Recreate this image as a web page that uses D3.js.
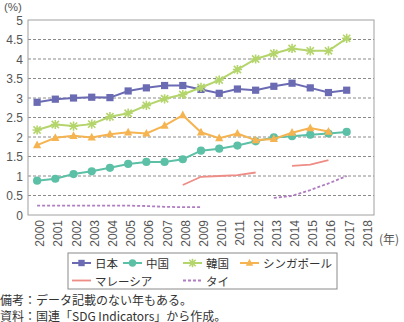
<!DOCTYPE html>
<html>
<head>
<meta charset="utf-8">
<script src="https://cdn.jsdelivr.net/npm/d3@7"></script>
<style>
  body { margin: 0; background: #fff; }
  svg { display: block; font-family: "Noto Sans CJK JP", "Noto Sans", sans-serif; }
  .num { font-family: "Liberation Sans", Arial, sans-serif; }
</style>
</head>
<body>
<svg id="chart" width="404" height="322"></svg>
<script>
// data (% values, null = no data)
const years = ['2000','2001','2002','2003','2004','2005','2006','2007','2008','2009',
               '2010','2011','2012','2013','2014','2015','2016','2017','2018'];
const japan     = [2.89,2.97,3.00,3.02,3.01,3.18,3.26,3.32,3.32,3.22,3.12,3.23,3.20,3.30,3.38,3.26,3.14,3.20,null];
const china     = [0.88,0.93,1.05,1.12,1.21,1.31,1.36,1.36,1.43,1.65,1.70,1.78,1.89,1.99,2.02,2.06,2.09,2.13,null];
const korea     = [2.18,2.32,2.28,2.33,2.52,2.61,2.81,2.98,3.09,3.27,3.46,3.73,4.00,4.14,4.27,4.21,4.21,4.53,null];
const singapore = [1.79,1.98,2.03,1.99,2.07,2.12,2.09,2.29,2.56,2.12,1.97,2.09,1.92,1.95,2.11,2.23,2.14,null,null];
const malaysia  = [null,null,null,null,null,null,null,null,0.77,0.98,1.00,1.02,1.09,null,1.26,1.29,1.41,null,null];
const thai      = [0.24,0.24,0.24,0.24,0.24,0.24,0.23,0.21,0.20,0.20,null,null,null,0.44,0.49,0.64,0.81,1.00,null];
const yTicks = [0,0.5,1,1.5,2,2.5,3,3.5,4,4.5,5];

const series = [
  { name: '日本', values: japan, color: '#6b6bb3', marker: 'square' },
  { name: '中国', values: china, color: '#5cc0a6', marker: 'circle' },
  { name: '韓国', values: korea, color: '#b4d56c', marker: 'star' },
  { name: 'シンガポール', values: singapore, color: '#f5b451', marker: 'triangle' },
  { name: 'マレーシア', values: malaysia, color: '#ee8c86', marker: null },
  { name: 'タイ', values: thai, color: '#b07cc2', marker: null, dash: '3,2' }
];

const svg = d3.select('#chart');
const m = { left: 28, right: 374, top: 20, bottom: 215 };

const x = d3.scaleBand().domain(years).range([m.left, m.right]);
const y = d3.scaleLinear().domain([0, 5]).range([m.bottom, m.top]);
const cx = d => x(d) + x.bandwidth() / 2;

// gridlines
svg.append('g').selectAll('line')
  .data(yTicks.filter(t => t > 0 && t < 5))
  .enter().append('line')
  .attr('x1', m.left).attr('x2', m.right)
  .attr('y1', d => y(d)).attr('y2', d => y(d))
  .attr('stroke', '#8a8a8a').attr('stroke-width', 1)
  .attr('stroke-dasharray', '3,2');

// plot frame
svg.append('rect')
  .attr('x', m.left).attr('y', m.top)
  .attr('width', m.right - m.left).attr('height', m.bottom - m.top)
  .attr('fill', 'none').attr('stroke', '#a0a0a0').attr('stroke-width', 1);

// y labels
svg.append('g').selectAll('text')
  .data(yTicks)
  .enter().append('text')
  .attr('class', 'num')
  .attr('x', 23).attr('y', d => y(d) + 0.5)
  .attr('text-anchor', 'end').attr('dominant-baseline', 'central')
  .attr('font-size', 12).attr('fill', '#555')
  .text(d => d);

svg.append('text').attr('class', 'num').attr('x', 4).attr('y', 7)
  .attr('dominant-baseline', 'central')
  .attr('font-size', 11.5).attr('fill', '#555').text('(%)');

// x labels (rotated)
svg.append('g').selectAll('text')
  .data(years)
  .enter().append('text')
  .attr('class', 'num')
  .attr('transform', d => `translate(${cx(d) + 3},220) rotate(-90)`)
  .attr('text-anchor', 'end').attr('dominant-baseline', 'central')
  .attr('font-size', 12).attr('fill', '#555')
  .text(d => d);

svg.append('text').attr('x', 379).attr('y', 238)
  .attr('dominant-baseline', 'central')
  .attr('font-size', 12).attr('fill', '#555').text('(年)');

// markers
function drawMarker(g, type, color, px, py, s) {
  if (type === 'square') {
    g.append('rect').attr('x', px - s).attr('y', py - s)
      .attr('width', s * 2).attr('height', s * 2).attr('fill', color);
  } else if (type === 'circle') {
    g.append('circle').attr('cx', px).attr('cy', py).attr('r', s + 0.5).attr('fill', color);
  } else if (type === 'triangle') {
    g.append('path')
      .attr('d', `M${px},${py - s - 1}L${px + s + 0.5},${py + s - 0.5}L${px - s - 0.5},${py + s - 0.5}Z`)
      .attr('fill', color);
  } else if (type === 'star') {
    const r = s;
    g.append('path')
      .attr('d', `M${px - r},${py - r}L${px + r},${py + r}M${px + r},${py - r}L${px - r},${py + r}M${px},${py - r - 1}L${px},${py + r + 1}M${px - r - 1},${py}L${px + r + 1},${py}`)
      .attr('stroke', color).attr('stroke-width', 1.6).attr('fill', 'none');
  }
}

const line = d3.line()
  .defined(d => d.v != null)
  .x(d => cx(d.year)).y(d => y(d.v));

series.forEach(s => {
  const pts = years.map((yr, i) => ({ year: yr, v: s.values[i] }));
  const g = svg.append('g');
  g.append('path')
    .attr('d', line(pts))
    .attr('fill', 'none').attr('stroke', s.color)
    .attr('stroke-width', s.marker ? 2 : 1.8)
    .attr('stroke-dasharray', s.dash || null);
  if (s.marker) {
    pts.filter(p => p.v != null).forEach(p => drawMarker(g, s.marker, s.color, cx(p.year), y(p.v), 3.6));
  }
});

// legend
const lg = svg.append('g');
lg.append('rect').attr('x', 68).attr('y', 253).attr('width', 269).attr('height', 36)
  .attr('fill', '#fff').attr('stroke', '#8a8a8a');

const legendPos = [
  { lx: 72, ty: 263 }, { lx: 123, ty: 263 }, { lx: 183, ty: 263 }, { lx: 240, ty: 263 },
  { lx: 72, ty: 280.5 }, { lx: 183, ty: 280.5 }
];
series.forEach((s, i) => {
  const p = legendPos[i];
  lg.append('line').attr('x1', p.lx).attr('x2', p.lx + 19)
    .attr('y1', p.ty).attr('y2', p.ty)
    .attr('stroke', s.color).attr('stroke-width', s.marker ? 2 : 1.8)
    .attr('stroke-dasharray', s.dash || null);
  if (s.marker) drawMarker(lg, s.marker, s.color, p.lx + 9.5, p.ty, 3.2);
  lg.append('text').attr('x', p.lx + 23).attr('y', p.ty)
    .attr('dominant-baseline', 'central')
    .attr('font-size', 11.5).attr('fill', '#333')
    .text(s.name);
});

// notes
svg.append('text').attr('x', 0).attr('y', 299)
  .attr('dominant-baseline', 'central').attr('font-size', 12).attr('fill', '#333')
  .text('備考：データ記載のない年もある。');
svg.append('text').attr('x', 0).attr('y', 315)
  .attr('dominant-baseline', 'central').attr('font-size', 12).attr('fill', '#333')
  .text('資料：国連「SDG Indicators」から作成。');
</script>
</body>
</html>
